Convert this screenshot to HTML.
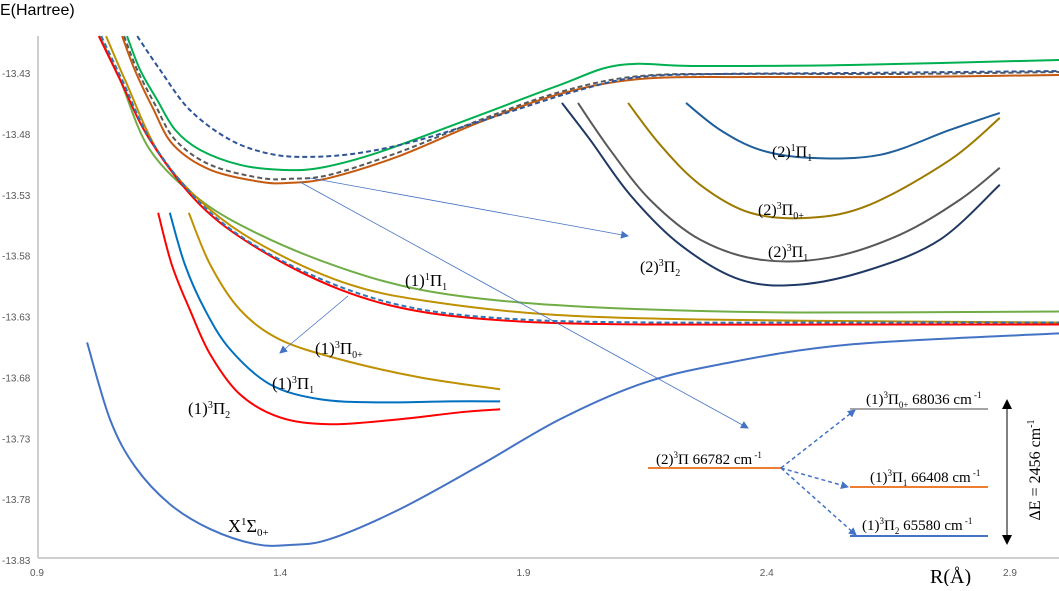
<!DOCTYPE html>
<html><head><meta charset="utf-8"><style>
body{margin:0;background:#fff;width:1059px;height:586px;overflow:hidden}
svg text{font-family:"Liberation Serif",serif}
.tick{font-family:"Liberation Sans",sans-serif;font-size:10px;fill:#595959}
</style></head><body>
<svg id="chart" width="1059" height="586" viewBox="0 0 1059 586" xmlns="http://www.w3.org/2000/svg">
<defs>
<marker id="ah" markerWidth="8" markerHeight="8" refX="7" refY="4" orient="auto" markerUnits="userSpaceOnUse"><path d="M0,0 L8,4 L0,8 z" fill="#4472c4"/></marker>
<marker id="ak" markerWidth="10" markerHeight="10" refX="5" refY="5" orient="auto-start-reverse" markerUnits="userSpaceOnUse"><path d="M0,0 L10,5 L0,10 z" fill="#000"/></marker>
</defs>
<g id="axes"></g><g id="series"></g>
<g id="annot">
<text x="0" y="15" style="font-family:'Liberation Sans',sans-serif;font-size:16px">E(Hartree)</text>
<text x="930" y="583" font-size="20">R(Å)</text>
<line x1="310" y1="178" x2="628" y2="236" stroke="#4472c4" stroke-width="0.8" marker-end="url(#ah)"/>
<line x1="300" y1="182" x2="748" y2="428" stroke="#4472c4" stroke-width="0.8" marker-end="url(#ah)"/>
<line x1="348" y1="296" x2="280" y2="353" stroke="#4472c4" stroke-width="0.8" marker-end="url(#ah)"/>
<text x="772" y="157" font-size="16">(2)<tspan font-size="10" dy="-6">1</tspan><tspan dy="6">Π</tspan><tspan font-size="10" dy="4">1</tspan></text>
<text x="758" y="215" font-size="16">(2)<tspan font-size="10" dy="-6">3</tspan><tspan dy="6">Π</tspan><tspan font-size="10" dy="4">0+</tspan></text>
<text x="768" y="257" font-size="16">(2)<tspan font-size="10" dy="-6">3</tspan><tspan dy="6">Π</tspan><tspan font-size="10" dy="4">1</tspan></text>
<text x="640" y="272" font-size="16">(2)<tspan font-size="10" dy="-6">3</tspan><tspan dy="6">Π</tspan><tspan font-size="10" dy="4">2</tspan></text>
<text x="405" y="286" font-size="17">(1)<tspan font-size="10" dy="-6">1</tspan><tspan dy="6">Π</tspan><tspan font-size="10" dy="4">1</tspan></text>
<text x="315" y="354" font-size="17">(1)<tspan font-size="10" dy="-6">3</tspan><tspan dy="6">Π</tspan><tspan font-size="10" dy="4">0+</tspan></text>
<text x="272" y="389" font-size="17">(1)<tspan font-size="10" dy="-6">3</tspan><tspan dy="6">Π</tspan><tspan font-size="10" dy="4">1</tspan></text>
<text x="188" y="414" font-size="17">(1)<tspan font-size="10" dy="-6">3</tspan><tspan dy="6">Π</tspan><tspan font-size="10" dy="4">2</tspan></text>
<text x="228" y="532" font-size="18">X<tspan font-size="11" dy="-7">1</tspan><tspan dy="7">Σ</tspan><tspan font-size="11" dy="4">0+</tspan></text>
<line x1="648" y1="468" x2="781" y2="468" stroke="#ed7d31" stroke-width="2"/>
<line x1="850" y1="409" x2="988" y2="409" stroke="#a5a5a5" stroke-width="2"/>
<line x1="850" y1="487" x2="988" y2="487" stroke="#ed7d31" stroke-width="2"/>
<line x1="850" y1="536" x2="988" y2="536" stroke="#4472c4" stroke-width="2"/>
<g stroke="#4472c4" stroke-width="1.5" stroke-dasharray="4,3" fill="none">
<line x1="781" y1="468" x2="855" y2="410" marker-end="url(#ah)"/>
<line x1="781" y1="468" x2="848" y2="487" marker-end="url(#ah)"/>
<line x1="781" y1="468" x2="856" y2="535" marker-end="url(#ah)"/>
</g>
<text x="656" y="464" font-size="15">(2)<tspan font-size="9" dy="-6">3</tspan><tspan dy="6">Π  66782 cm</tspan><tspan font-size="9" dy="-6"> -1</tspan></text>
<text x="866" y="404" font-size="15">(1)<tspan font-size="9" dy="-6">3</tspan><tspan dy="6">Π</tspan><tspan font-size="9" dy="4">0+</tspan><tspan dy="-4"> 68036 cm</tspan><tspan font-size="9" dy="-6"> -1</tspan></text>
<text x="870" y="482" font-size="15">(1)<tspan font-size="9" dy="-6">3</tspan><tspan dy="6">Π</tspan><tspan font-size="9" dy="4">1</tspan><tspan dy="-4"> 66408 cm</tspan><tspan font-size="9" dy="-6"> -1</tspan></text>
<text x="862" y="530" font-size="15">(1)<tspan font-size="9" dy="-6">3</tspan><tspan dy="6">Π</tspan><tspan font-size="9" dy="4">2</tspan><tspan dy="-4">  65580 cm</tspan><tspan font-size="9" dy="-6"> -1</tspan></text>
<line x1="1007" y1="404" x2="1007" y2="540" stroke="#000" stroke-width="1" marker-start="url(#ak)" marker-end="url(#ak)"/>
<text transform="translate(1040,470) rotate(-90)" text-anchor="middle" font-size="16">ΔE = 2456  cm<tspan font-size="10" dy="-6">-1</tspan></text>
</g>
</svg>
<script>
const yTicks=[-13.43,-13.48,-13.53,-13.58,-13.63,-13.68,-13.73,-13.78,-13.83];
const xTicks=[0.9,1.4,1.9,2.4,2.9];
const R_upDash=[1.106,1.153,1.214,1.297,1.379,1.461,1.564,1.687,1.852,2.016,2.139,2.304,2.571,3.001];
const E_upDash=[-13.3997,-13.4275,-13.4603,-13.4849,-13.4964,-13.4989,-13.4956,-13.4849,-13.4644,-13.4439,-13.4333,-13.4308,-13.4300,-13.4284];
const R_upGreen=[1.085,1.112,1.147,1.184,1.235,1.317,1.399,1.482,1.605,1.811,1.975,2.098,2.263,2.571,3.001];
const E_upGreen=[-13.3997,-13.4275,-13.4521,-13.4767,-13.4931,-13.5054,-13.5095,-13.5079,-13.4948,-13.4644,-13.4398,-13.4234,-13.4243,-13.4234,-13.4193];
const R_upGray=[1.079,1.106,1.143,1.184,1.256,1.358,1.420,1.502,1.646,1.811,1.975,2.139,2.366,2.674,3.001];
const E_upGray=[-13.3997,-13.4275,-13.4562,-13.4849,-13.5054,-13.5161,-13.5169,-13.5136,-13.4948,-13.4685,-13.4456,-13.4325,-13.4308,-13.4308,-13.4292];
const R_upBrown=[1.075,1.101,1.138,1.180,1.256,1.358,1.420,1.502,1.646,1.811,1.975,2.139,2.366,2.674,3.001];
const E_upBrown=[-13.3997,-13.4275,-13.4587,-13.4890,-13.5095,-13.5193,-13.5202,-13.5161,-13.4980,-13.4702,-13.4472,-13.4349,-13.4333,-13.4333,-13.4316];
const R_1pi1=[1.029,1.071,1.132,1.235,1.358,1.523,1.687,1.893,2.160,2.468,3.001];
const E_1pi1=[-13.3997,-13.4357,-13.4931,-13.5341,-13.5628,-13.5898,-13.6079,-13.6185,-13.6243,-13.6267,-13.6259];
const R_gold=[1.042,1.081,1.153,1.256,1.379,1.543,1.708,1.954,2.263,2.674,3.001];
const E_gold=[-13.3997,-13.4357,-13.4972,-13.5423,-13.5751,-13.6038,-13.6177,-13.6284,-13.6325,-13.6341,-13.6349];
const R_red=[1.027,1.071,1.132,1.235,1.358,1.523,1.687,1.893,2.160,2.571,3.001];
const E_red=[-13.3997,-13.4357,-13.4849,-13.5382,-13.5751,-13.6079,-13.6259,-13.6341,-13.6366,-13.6366,-13.6366];
const R_blueDash=[1.032,1.075,1.136,1.239,1.362,1.527,1.691,1.897,2.160,2.571,3.001];
const E_blueDash=[-13.3997,-13.4357,-13.4866,-13.5382,-13.5751,-13.6062,-13.6243,-13.6325,-13.6349,-13.6349,-13.6349];
const R_in3pi2=[1.149,1.177,1.214,1.256,1.317,1.399,1.502,1.646,1.769,1.852];
const E_in3pi2=[-13.5448,-13.5874,-13.6243,-13.6611,-13.6939,-13.7128,-13.7185,-13.7144,-13.7087,-13.7062];
const R_in3pi1=[1.173,1.204,1.245,1.297,1.379,1.482,1.605,1.749,1.852];
const E_in3pi1=[-13.5448,-13.5874,-13.6243,-13.6570,-13.6857,-13.6980,-13.7005,-13.6997,-13.6997];
const R_in3pi0=[1.212,1.256,1.317,1.399,1.523,1.687,1.852];
const E_in3pi0=[-13.5448,-13.5874,-13.6243,-13.6489,-13.6652,-13.6800,-13.6898];
const R_X=[1.003,1.050,1.101,1.173,1.256,1.348,1.420,1.502,1.646,1.811,1.975,2.139,2.304,2.571,3.001];
const E_X=[-13.6513,-13.7144,-13.7530,-13.7841,-13.8046,-13.8169,-13.8177,-13.8128,-13.7882,-13.7521,-13.7144,-13.6857,-13.6693,-13.6530,-13.6439];
const R_2pi1=[2.234,2.304,2.386,2.489,2.633,2.777,2.879];
const E_2pi1=[-13.4546,-13.4767,-13.4931,-13.4997,-13.4972,-13.4767,-13.4628];
const R_2pi0=[2.115,2.181,2.263,2.366,2.489,2.612,2.777,2.879];
const E_2pi0=[-13.4546,-13.4890,-13.5218,-13.5448,-13.5489,-13.5382,-13.5013,-13.4669];
const R_23pi1=[2.012,2.078,2.160,2.263,2.386,2.530,2.674,2.797,2.879];
const E_23pi1=[-13.4546,-13.4931,-13.5341,-13.5669,-13.5833,-13.5816,-13.5628,-13.5341,-13.5079];
const R_23pi2=[1.979,2.037,2.119,2.222,2.345,2.468,2.612,2.756,2.879];
const E_23pi2=[-13.4546,-13.4849,-13.5300,-13.5710,-13.5997,-13.6038,-13.5915,-13.5669,-13.5218];

const X0=37,X1=1010,Y0=73,Y1=560;
function xs(r){return X0+(r-0.9)/(2.9-0.9)*(X1-X0);}
function ys(e){return Y0+(-13.43-e)/(0.40)*(Y1-Y0);}
const NS='http://www.w3.org/2000/svg';
const ax=document.getElementById('axes'),sg=document.getElementById('series');
function mk(t,p,a){const e=document.createElementNS(NS,t);for(const k in a)e.setAttribute(k,a[k]);p.appendChild(e);return e;}
const yl=mk('line',ax,{x1:38,y1:36,x2:38,y2:558,stroke:'#bfbfbf','stroke-width':1.5});


const xl=mk('line',ax,{x1:38,y1:558,x2:1059,y2:558,stroke:'#bfbfbf','stroke-width':1.5});


yTicks.forEach(v=>{const t=mk('text',ax,{x:2,y:ys(v)+4,class:'tick'});t.textContent=v.toFixed(2);

});
xTicks.forEach(v=>{const t=mk('text',ax,{x:xs(v),y:576,class:'tick','text-anchor':'middle'});t.textContent=v.toFixed(1);

});
function path(R,E){const p=R.map((r,i)=>[xs(r),ys(E[i])]);let d='M'+p[0][0]+','+p[0][1];
for(let i=0;i<p.length-1;i++){const a=p[Math.max(i-1,0)],b=p[i],c=p[i+1],e=p[Math.min(i+2,p.length-1)];
d+=' C'+(b[0]+(c[0]-a[0])/6)+','+(b[1]+(c[1]-a[1])/6)+' '+(c[0]-(e[0]-b[0])/6)+','+(c[1]-(e[1]-b[1])/6)+' '+c[0]+','+c[1];}return d;}
const S=[[R_1pi1,E_1pi1,'#70ad47',0,'curve-1-1pi1'],[R_gold,E_gold,'#bf9000',0,'curve-1-3pi0-full'],[R_red,E_red,'#ff0000',0,'curve-1-3pi2-full'],[R_blueDash,E_blueDash,'#2e75b6',1,'curve-1-3pi1-full'],
[R_upBrown,E_upBrown,'#c55a11',0,'curve-2-3pi2-full'],[R_upGray,E_upGray,'#595959',1,'curve-2-3pi1-full'],[R_upGreen,E_upGreen,'#00b050',0,'curve-2-3pi0-full'],[R_upDash,E_upDash,'#2f5597',1,'curve-2-1pi1-full'],
[R_in3pi2,E_in3pi2,'#ff0000',0,'inset-1-3pi2'],[R_in3pi1,E_in3pi1,'#0070c0',0,'inset-1-3pi1'],[R_in3pi0,E_in3pi0,'#bf9000',0,'inset-1-3pi0'],
[R_X,E_X,'#4472c4',0,'curve-x-sigma'],[R_2pi1,E_2pi1,'#1f5f9a',0,'inset-2-1pi1'],[R_2pi0,E_2pi0,'#9c7a00',0,'inset-2-3pi0'],[R_23pi1,E_23pi1,'#595959',0,'inset-2-3pi1'],[R_23pi2,E_23pi2,'#203864',0,'inset-2-3pi2']];
S.forEach(s=>{const a={d:path(s[0],s[1]),fill:'none',stroke:s[2],'stroke-width':2};if(s[3])a['stroke-dasharray']='5,3';
const el=mk('path',sg,a);

});
</script>
</body></html>
